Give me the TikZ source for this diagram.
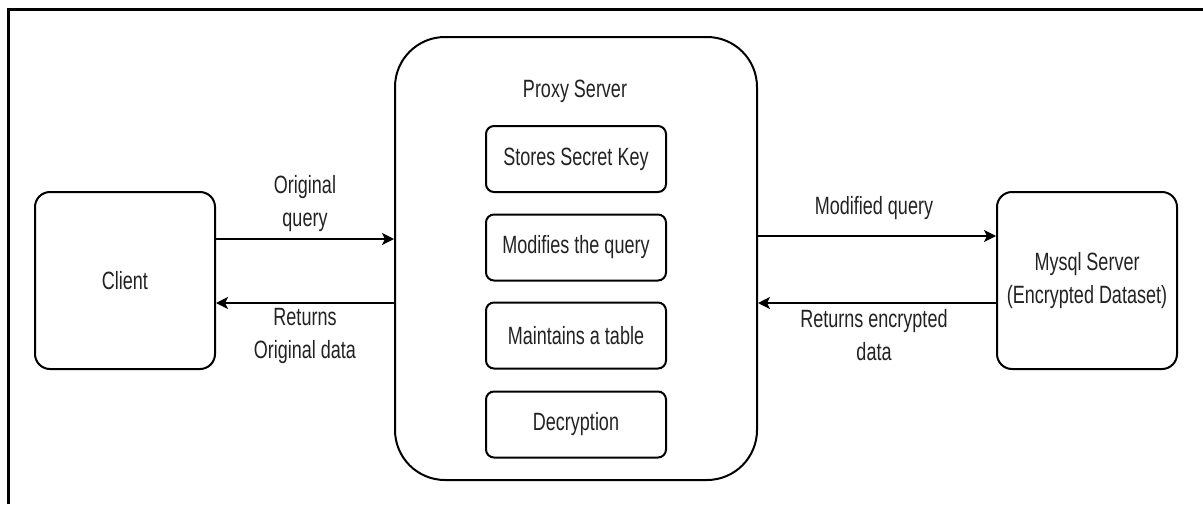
\documentclass[tikz,border=0pt]{standalone}
\usepackage{fontspec}
\newfontfamily\lblfont[FakeStretch=0.72]{Liberation Sans}
\usetikzlibrary{arrows.meta}
\definecolor{txt}{HTML}{222222}
\begin{document}
\begin{tikzpicture}[x=0.5pt,y=-0.5pt,
  every node/.style={font=\lblfont\fontsize{12.5}{16.5}\selectfont, text=txt, align=center, inner sep=0pt},
  bigbox/.style={draw, line width=1pt, rounded corners=7.5pt, minimum width=90pt, minimum height=88.5pt},
  proxybox/.style={draw, line width=1pt, rounded corners=25pt, minimum width=181pt, minimum height=221.5pt},
  subbox/.style={draw, line width=1pt, rounded corners=4pt, minimum width=90pt, minimum height=33pt},
  arr/.style={line width=1pt, -{Stealth[length=6pt,width=6pt,inset=1.5pt]}},
  lbl/.style={}
]
\useasboundingbox (0,0) rectangle (1203,504);
\draw[line width=1.5pt] (8,504) -- (8,9) -- (1203,9);

\node[bigbox] (client) at (125,280.5) {Client};
\node[proxybox] (proxy) at (576,258.5) {};
\node[bigbox] (mysql) at (1087,280.5) {Mysql Server\\(Encrypted Dataset)};

\node (ptitle) at (575,91) {Proxy Server};
\node[subbox] (s1) at (576,159) {Stores Secret Key};
\node[subbox] (s2) at (576,247.5) {Modifies the query};
\node[subbox] (s3) at (576,335.5) {Maintains a table};
\node[subbox] (s4) at (576,424.5) {Decryption};

\draw[arr] ([yshift=20.75pt]client.east) coordinate (a1) -- (a1 -| proxy.west);
\coordinate (b1) at ([yshift=-11.25pt]client.east);
\draw[arr] (b1 -| proxy.west) -- (b1);
\coordinate (c1) at ([yshift=22.25pt]mysql.west);
\draw[arr] (c1 -| proxy.east) -- (c1);
\coordinate (d1) at ([yshift=-11.25pt]mysql.west);
\draw[arr] (d1) -- (d1 -| proxy.east);

\node[lbl] (l1) at (305,203.5) {Original\\query};
\node[lbl] (l2) at (305,336) {Returns\\Original data};
\node[lbl] (l3) at (874,208) {Modified query};
\node[lbl] (l4) at (874,335.5) {Returns encrypted\\data};
\end{tikzpicture}
\end{document}
